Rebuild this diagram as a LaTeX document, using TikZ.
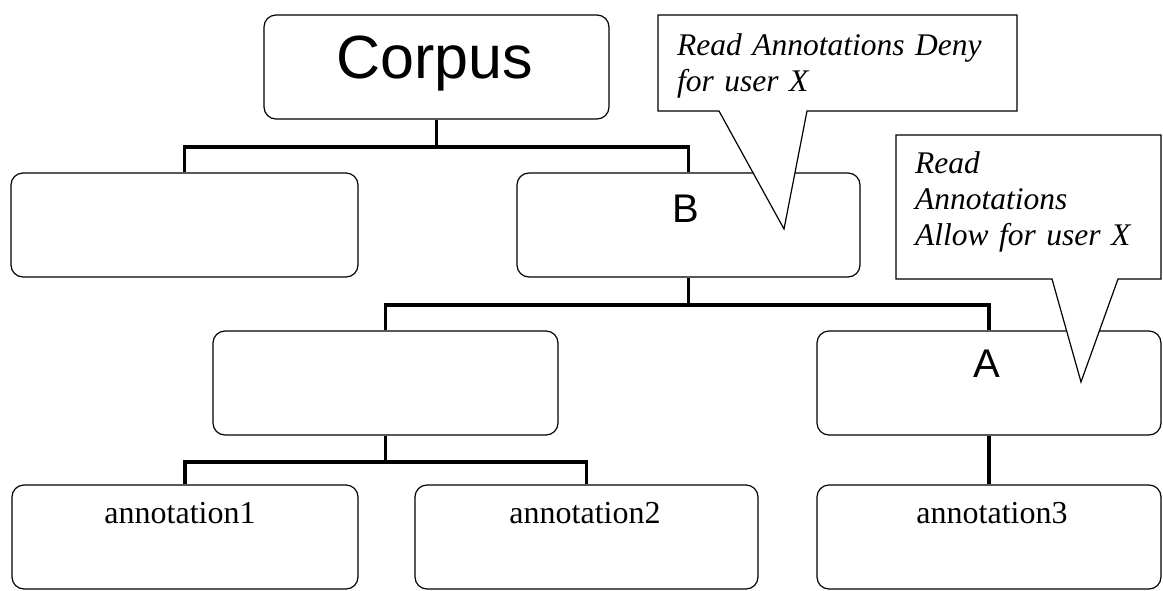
\documentclass[tikz,border=0pt]{standalone}
\usepackage{fontspec}
\setmainfont{Liberation Serif}
\newfontfamily\boxfont{Liberation Sans}
\usepackage{tikz}

\begin{document}
\begin{tikzpicture}[x=1pt, y=-1pt,
    box/.style={draw, line width=1.2pt, rounded corners=12pt, inner sep=0pt, minimum height=104pt},
    link/.style={line width=3.5pt},
    callout/.style={draw, fill=white, line width=1.2pt, line join=miter},
    note/.style={font=\itshape\fontsize{31.5}{36}\selectfont, anchor=base west, inner sep=0pt, text width=330pt, align=left},
    leaf/.style={font=\fontsize{32}{38}\selectfont, anchor=base, inner sep=0pt}]
    \useasboundingbox (0,0) rectangle (1163,590);

    % Draw the boxes
    \node[box, minimum width=345pt] (corpus) at (436.5,67) {};
    \node[box, minimum width=347pt] (leftbox) at (184.5,225) {};
    \node[box, minimum width=343pt] (bbox) at (688.5,225) {};
    \node[box, minimum width=345pt] (midbox) at (385.5,383) {};
    \node[box, minimum width=344pt] (abox) at (989,383) {};
    \node[box, minimum width=346pt] (ann1box) at (185,537) {};
    \node[box, minimum width=343pt] (ann2box) at (586.5,537) {};
    \node[box, minimum width=344pt] (ann3box) at (989,537) {};

    % Lines between the boxes
    \coordinate (bus1) at (0,147);
    \coordinate (bus2) at (0,305);
    \coordinate (bus3) at (0,462);
    \draw[link] (corpus.south) -- (corpus.south |- bus1);
    \draw[link] (leftbox.north) |- (bbox.north |- bus1) -- (bbox.north);
    \draw[link] (bbox.south) -- (bbox.south |- bus2);
    \draw[link] (midbox.north) |- (abox.north |- bus2) -- (abox.north);
    \draw[link] (midbox.south) -- (midbox.south |- bus3);
    \draw[link] (ann1box.north) |- (ann2box.north |- bus3) -- (ann2box.north);
    \draw[link] (abox.south) -- (ann3box.north);

    % Callouts
    \draw[callout] (658,15) -- (1017,15) -- (1017,111) -- (807,111) -- (784,229)
        -- (719,111) -- (658,111) -- cycle;
    \draw[callout] (896,135) -- (1161,135) -- (1161,279) -- (1118,279) -- (1081,382)
        -- (1052,279) -- (896,279) -- cycle;

    % Labels inside the boxes
    \node[anchor=base, inner sep=0pt, font=\boxfont\fontsize{61}{70}\selectfont] (corpustext) at (435,78) {Corpus};
    \node[anchor=base, inner sep=0pt, font=\boxfont\fontsize{40}{46}\selectfont] (btext) at (686,222) {B};
    \node[anchor=base, inner sep=0pt, font=\boxfont\fontsize{40}{46}\selectfont] (atext) at (987,377) {A};
    \node[leaf] (ann1text) at (180,523) {annotation1};
    \node[leaf] (ann2text) at (585,523) {annotation2};
    \node[leaf] (ann3text) at (992,523) {annotation3};

    % Callout texts
    \node[note] (denytext) at (677,55) {Read Annotations Deny\\for user X};
    \node[note] (allowtext) at (915,173) {Read\\Annotations\\Allow for user X};
\end{tikzpicture}
\end{document}
